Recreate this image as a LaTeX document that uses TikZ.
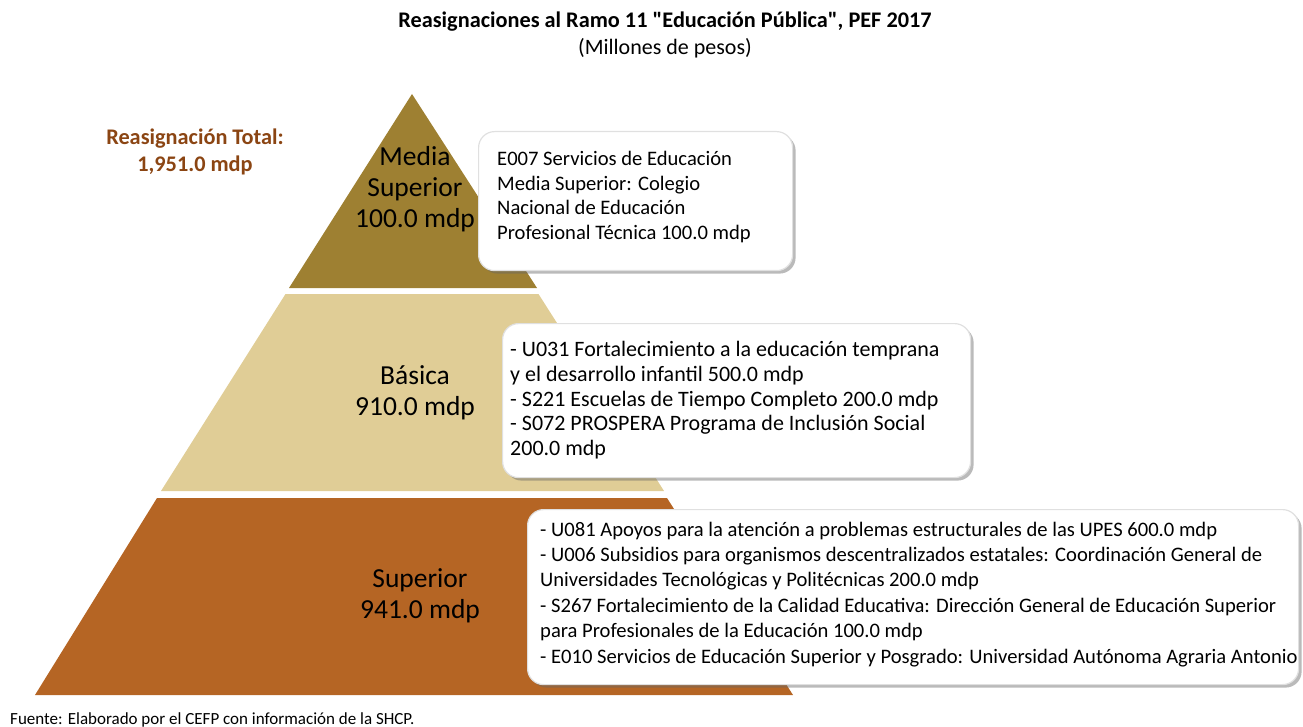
\documentclass[tikz,border=0pt]{standalone}
\usepackage{fontspec}
\setmainfont{Carlito}
\newfontfamily\calfont{Carlito}
\usetikzlibrary{shadows}
\definecolor{topc}{RGB}{158,128,50}
\definecolor{midc}{RGB}{224,205,150}
\definecolor{botc}{RGB}{181,101,36}
\definecolor{brownt}{RGB}{139,69,19}
\tikzset{
  infobox/.style={draw=black!12, line width=1.2pt, fill=white, rounded corners=16pt,
    drop shadow={shadow xshift=3pt, shadow yshift=-3pt, opacity=0.45, fill=black!60}},
  boxtext/.style={anchor=north west, inner sep=0pt, align=left},
  tiertext/.style={align=center, inner sep=0pt, font=\fontsize{27.5}{31}\selectfont},
}
\begin{document}
\begin{tikzpicture}[x=1pt,y=-1pt]
\useasboundingbox (0,0) rectangle (1303,727);
% title
\node[font=\fontsize{22.3}{24}\selectfont\bfseries\calfont] (title) at (665,22) {Reasignaciones al Ramo 11 "Educación Pública", PEF 2017};
\node[font=\fontsize{22}{24}\selectfont] (sub) at (665,48) {(Millones de pesos)};
% total
\node[align=center, text=brownt, font=\fontsize{22.3}{27}\selectfont\bfseries] (total) at (195,152) {Reasignación Total:\\1,951.0 mdp};
% pyramid
\fill[topc] (412,94) -- (537,288) -- (289,288) -- cycle;
\fill[midc] (285.5,294) -- (538.5,294) -- (664,491) -- (161,491) -- cycle;
\fill[botc] (157,498) -- (667,498) -- (793,695) -- (35,695) -- cycle;
\node[tiertext] (t1) at (415,189) {Media\\Superior\\100.0 mdp};
\node[tiertext] (t2) at (415,393) {Básica\\910.0 mdp};
\node[tiertext] (t3) at (420,596) {Superior\\941.0 mdp};
% boxes
\node[infobox, minimum width=314pt, minimum height=139pt, anchor=north west] (b1) at (478,131) {};
\node[boxtext, font=\fontsize{20.6}{24.7}\selectfont] (b1t) at (497,151) {E007 Servicios de Educación\\Media Superior: Colegio\\Nacional de Educación\\Profesional Técnica 100.0 mdp};
\node[infobox, minimum width=468pt, minimum height=154pt, anchor=north west] (b2) at (502,323) {};
\node[boxtext, font=\fontsize{22}{24.8}\selectfont] (b2t) at (510,341) {- U031 Fortalecimiento a la educación temprana\\y el desarrollo infantil 500.0 mdp\\- S221 Escuelas de Tiempo Completo 200.0 mdp\\- S072 PROSPERA Programa de Inclusión Social\\200.0 mdp};
\node[infobox, minimum width=771pt, minimum height=175pt, anchor=north west] (b3) at (527,509) {};
\node[boxtext, font=\fontsize{20.6}{25.4}\selectfont] (b3t) at (540,521.5) {- U081 Apoyos para la atención a problemas estructurales de las UPES 600.0 mdp\\- U006 Subsidios para organismos descentralizados estatales: Coordinación General de\\Universidades Tecnológicas y Politécnicas 200.0 mdp\\- S267 Fortalecimiento de la Calidad Educativa: Dirección General de Educación Superior\\para Profesionales de la Educación 100.0 mdp\\- E010 Servicios de Educación Superior y Posgrado: Universidad Autónoma Agraria Antonio};
% footer
\node[anchor=base west, inner sep=0pt, font=\fontsize{17}{19}\selectfont] (foot) at (10,724) {Fuente: Elaborado por el CEFP con información de la SHCP.};
\end{tikzpicture}
\end{document}
